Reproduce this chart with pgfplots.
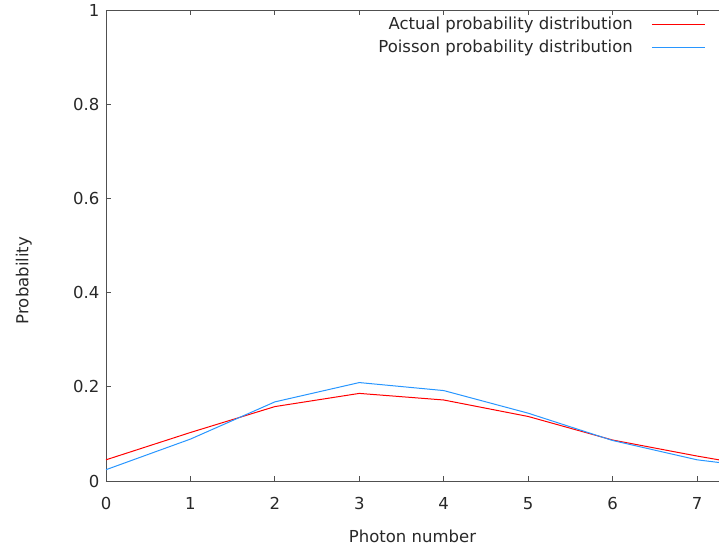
\documentclass[border=0pt]{standalone}
\usepackage{fontspec}
\setmainfont{DejaVu Sans}
\usepackage{pgfplots}
\pgfplotsset{compat=1.18}
\definecolor{txt}{RGB}{40,40,40}
\definecolor{axgray}{RGB}{80,80,80}
\definecolor{pblue}{RGB}{40,150,255}
\definecolor{pred}{RGB}{255,0,0}
\newcommand{\fs}{\fontsize{16.5}{19}\selectfont}
\begin{document}
\fs
\begin{tikzpicture}
\begin{axis}[
  at={(0,0)}, anchor=south west,
  scale only axis, width=613pt, height=471pt,
  xmin=0, xmax=7.26, ymin=0, ymax=1,
  axis x line=box, axis y line=left,
  y axis line style={-}, x axis line style={-},
  axis line style={axgray, line width=0.8pt},
  xtick={0,1,2,3,4,5,6,7}, ytick={0,0.2,0.4,0.6,0.8,1},
  tick style={axgray, line width=0.8pt},
  tick align=inside, major tick length=5pt,
  minor tick num=0,
  /pgf/number format/assume math mode=true,
  /pgf/number format/fixed,
  ticklabel style={font=\fs, text=txt},
  xticklabel style={yshift=-11pt},
  yticklabel style={xshift=-1pt},
  xlabel={Photon number}, ylabel={Probability},
  label style={font=\fs, text=txt},
  xlabel style={yshift=-9pt},
  ylabel style={yshift=30pt, xshift=-35pt},
]
\addplot[draw=pred, line width=1pt] coordinates {
 (0,0.045) (1,0.103) (2,0.158) (3,0.186) (4,0.172) (5,0.137) (6,0.087) (7,0.053) (8,0.022)};
\addplot[draw=pblue, line width=1pt] coordinates {
 (0,0.024) (1,0.089) (2,0.168) (3,0.209) (4,0.192) (5,0.144) (6,0.086) (7,0.045) (8,0.023)};
% legend samples
\addplot[draw=pred, line width=1pt, forget plot] coordinates {(6.466,0.970) (7.094,0.970)};
\addplot[draw=pblue, line width=1pt, forget plot] coordinates {(6.466,0.9214) (7.094,0.9214)};
\node[anchor=base east, text=txt, font=\fs, inner sep=0pt] at (axis cs:6.241,0.958) {Actual probability distribution};
\node[anchor=base east, text=txt, font=\fs, inner sep=0pt] at (axis cs:6.241,0.9094) {Poisson probability distribution};
\end{axis}
\pgfresetboundingbox
\path[use as bounding box] (-106pt,-69pt) rectangle (613pt,481pt);
\end{tikzpicture}
\end{document}
